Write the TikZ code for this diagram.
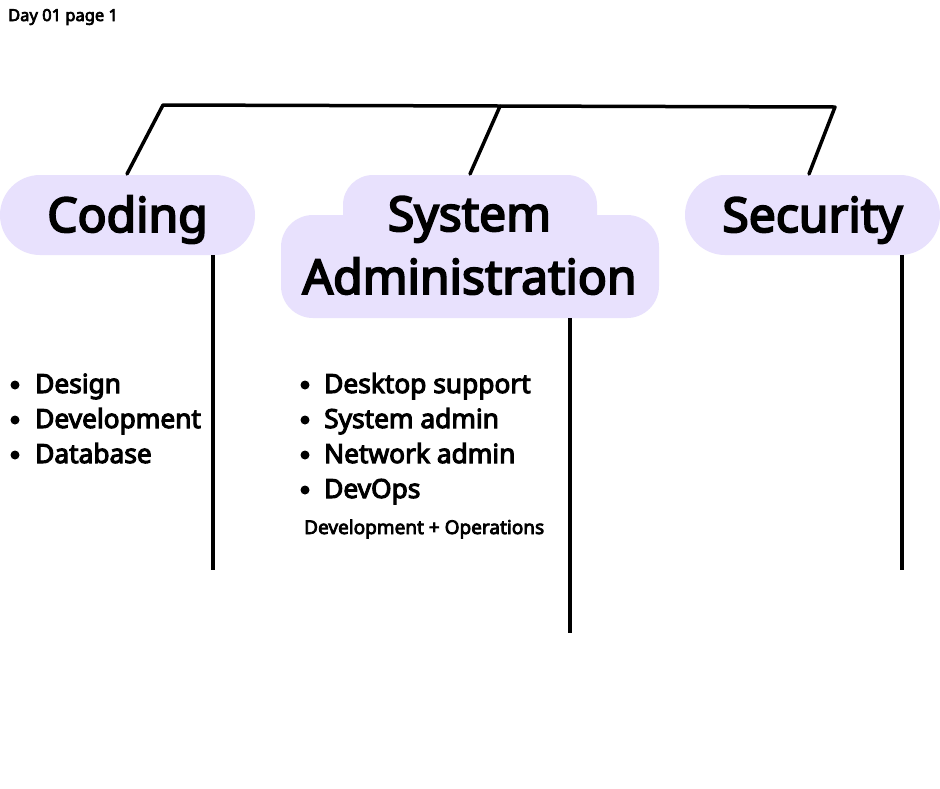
\documentclass[tikz,border=0pt]{standalone}
\usepackage{fontspec}
\setmainfont{Noto Sans}[BoldFont={Noto Sans}, BoldFeatures={FakeBold=4}]
\usetikzlibrary{calc}
\definecolor{lav}{RGB}{232,225,253}
\begin{document}
\begin{tikzpicture}[x=1pt,y=-1pt,
  conn/.style={line width=3.5pt, line cap=round, line join=round},
  vline/.style={line width=3.5pt},
  box/.style={fill=lav, draw=none, rounded corners=40pt, minimum width=255pt, minimum height=80pt, inner sep=0pt},
  title/.style={font=\fontsize{48}{63}\selectfont\bfseries, align=center, inner sep=0pt, anchor=base},
  item/.style={font=\fontsize{26.3}{35}\selectfont\bfseries, anchor=base west, inner sep=0pt},
  dot/.style={circle, fill=black, minimum size=9pt, inner sep=0pt}]
\useasboundingbox (0,0) rectangle (940,788);
\fill[white] (0,0) rectangle (940,788);

\node[font=\fontsize{16.5}{18}\selectfont\bfseries, anchor=base west, inner sep=0pt] (pagetitle) at (8,21) {Day 01 page 1};

% boxes
\node[box] (coding) at (127.5,215) {};
\node[title] (codingtxt) at (127.5,232) {Coding};
\node[box] (security) at (812.5,215) {};
\node[title] (securitytxt) at (812.5,232) {Security};

\fill[lav, rounded corners=30pt] (343,175) rectangle (597,245);
\fill[lav, rounded corners=32pt] (281,215) rectangle (659,318);
\node[minimum width=378pt, minimum height=143pt, inner sep=0pt] (sysbox) at (470,246.5) {};
\node[title] (systxt1) at (469.5,231) {System};
\node[title] (systxt2) at (469.5,294) {Administration};

% tree connectors
\coordinate (barL) at (163,105);
\coordinate (barM) at (500,106.2);
\coordinate (barR) at (835,107);
\coordinate (codetop) at (127,174);
\coordinate (systop) at (470,174);
\coordinate (sectop) at (809,174);
\draw[conn] (codetop) -- (barL) -- (barR) -- (sectop);
\draw[conn] (barM) -- (systop);

% vertical lines
\coordinate (cv) at (213,570);
\coordinate (sv) at (570,633);
\coordinate (secv) at (902,570);
\draw[vline] (coding.south -| cv) -- (cv);
\draw[vline] (sysbox.south -| sv) -- (sv);
\draw[vline] (security.south -| secv) -- (secv);

% coding list
\foreach \t [count=\i] in {Design,Development,Database}{
  \node[dot] (cb\i) at (15,350+35*\i) {};
  \node[item] (ci\i) at (35,358+35*\i) {\t};
}
% sysadmin list
\foreach \t [count=\i] in {Desktop support,System admin,Network admin,DevOps}{
  \node[dot] (sb\i) at (305,350+35*\i) {};
  \node[item] (si\i) at (324,358+35*\i) {\t};
}
\node[font=\fontsize{19}{20}\selectfont\bfseries, anchor=base west, inner sep=0pt] (devops) at (304,534) {Development + Operations};
\end{tikzpicture}
\end{document}
